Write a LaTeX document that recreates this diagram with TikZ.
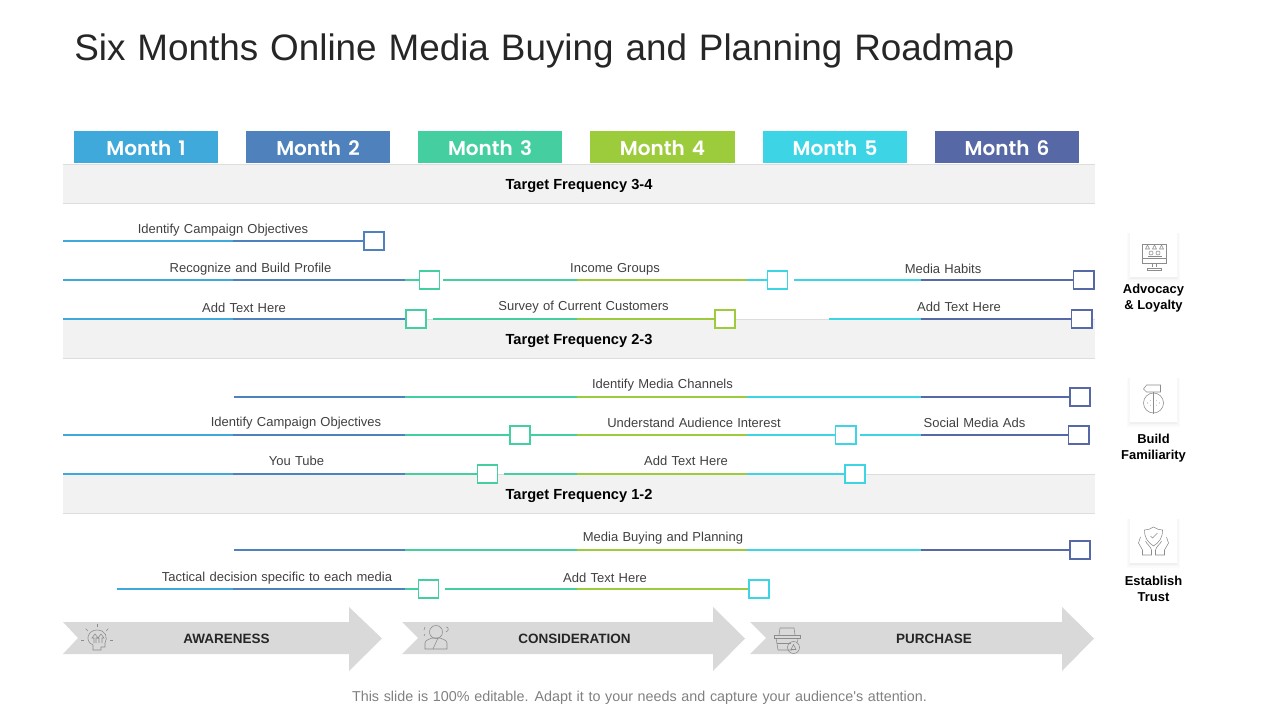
\documentclass[tikz,border=0pt]{standalone}
\usepackage{fontspec}
\setmainfont{Liberation Sans}
\newfontfamily\titlefont{Liberation Sans}[WordSpace=1.5]
\newfontfamily\labelfont{Liberation Sans}[WordSpace=1.65]
\newfontfamily\footfont{Liberation Sans}[WordSpace=1.17]
\newfontfamily\monthfont{Poppins SemiBold}[WordSpace=1.5]
\usetikzlibrary{arrows.meta,positioning,calc,shadows}
\definecolor{mone}{HTML}{3FA9DC}
\definecolor{mtwo}{HTML}{4F81BD}
\definecolor{mthree}{HTML}{45CFA1}
\definecolor{mfour}{HTML}{9CCB3B}
\definecolor{mfive}{HTML}{3DD5E6}
\definecolor{msix}{HTML}{5668A6}
\definecolor{bandgrey}{HTML}{F2F2F2}
\definecolor{bandline}{HTML}{DDDDDD}
\definecolor{arrowgrey}{HTML}{D9D9D9}
\definecolor{icongrey}{HTML}{8C8C8C}
\tikzset{
    monthbox/.style={minimum width=3.6cm,minimum height=0.8cm,inner sep=0pt,text=white,text height=12.5pt,text depth=0pt,font=\monthfont\fontsize{14.2pt}{16pt}\selectfont},
    bandbox/.style={fill=bandgrey,minimum width=25.8cm,minimum height=0.95cm,inner sep=0pt,text height=7.6pt,text depth=0pt,font=\bfseries\fontsize{10.4pt}{12pt}\selectfont},
    track/.style={line width=1.4pt},
    tasklabel/.style={text=black!75,inner sep=0pt,font=\labelfont\fontsize{9.25pt}{10pt}\selectfont},
    stagelabel/.style={text=black!85,inner sep=0pt,font=\bfseries\fontsize{9.6pt}{11pt}\selectfont},
    sidelabel/.style={align=center,inner sep=0pt,font=\bfseries\fontsize{9.2pt}{11.4pt}\selectfont},
    sidecard/.style={fill=white,minimum width=1.18cm,minimum height=1.1cm,inner sep=0pt,
        drop shadow={shadow xshift=0pt,shadow yshift=-1.5pt,shadow scale=1.12,fill=black!1.5,opacity=1},
        drop shadow={shadow xshift=0pt,shadow yshift=-1.2pt,shadow scale=1.06,fill=black!3,opacity=1},
        drop shadow={shadow xshift=0pt,shadow yshift=-1.2pt,shadow scale=1.01,fill=black!6,opacity=1}},
    icon/.style={draw=icongrey,line width=0.4pt},
    mark box/.style={draw=#1,line width=1.4pt,fill=white,minimum width=0.5cm,minimum height=0.45cm,inner sep=0pt}
}

\begin{document}
\begin{tikzpicture}[x=0.025cm,y=-0.025cm]
    \useasboundingbox (0,0) rectangle (1280,720);

    % Title
    \node[anchor=base west,inner sep=0pt,text=black!85,font=\titlefont\fontsize{26.2pt}{30pt}\selectfont] (title) at (74,61) {Six Months Online Media Buying and Planning Roadmap};

    % Month headers
    \foreach \x/\col/\n in {146/mone/1, 318/mtwo/2, 490/mthree/3, 662.5/mfour/4, 835/mfive/5, 1007/msix/6} {
        \node[monthbox,fill=\col] (month\n) at (\x,147) {Month \n};
    }

    % Month boundaries for the tracks
    \coordinate (mb1) at (233,0);
    \coordinate (mb2) at (405,0);
    \coordinate (mb3) at (577,0);
    \coordinate (mb4) at (747,0);
    \coordinate (mb5) at (921,0);

    % Frequency bands
    \foreach \y/\name/\label in {184/bandA/3-4, 339/bandB/2-3, 494/bandC/1-2} {
        \node[bandbox] (\name) at (579,\y) {Target Frequency \label};
        \draw[bandline] (\name.north west) -- (\name.north east);
        \draw[bandline] (\name.south west) -- (\name.south east);
    }

    % Row 1
    \coordinate (sa) at (63,241);
    \node[mark box=mtwo] (na) at (374,241) {};
    \draw[track,mone] (sa) -- (mb1 |- sa);
    \draw[track,mtwo] (mb1 |- sa) -- (na.west);
    \node[tasklabel] (la) at (223,230) {Identify Campaign Objectives};

    % Row 2
    \coordinate (sb) at (63,280);
    \coordinate (sbb) at (443,280);
    \coordinate (sbc) at (794,280);
    \node[mark box=mthree] (nb) at (429.5,280) {};
    \node[mark box=mfive] (nbb) at (777.5,280) {};
    \node[mark box=msix] (nbc) at (1083.5,280) {};
    \draw[track,mone] (sb) -- (mb1 |- sb);
    \draw[track,mtwo] (mb1 |- sb) -- (mb2 |- sb);
    \draw[track,mthree] (mb2 |- sb) -- (nb.west);
    \draw[track,mthree] (sbb) -- (mb3 |- sbb);
    \draw[track,mfour] (mb3 |- sbb) -- (mb4 |- sbb);
    \draw[track,mfive] (mb4 |- sbb) -- (nbb.west);
    \draw[track,mfive] (sbc) -- (mb5 |- sbc);
    \draw[track,msix] (mb5 |- sbc) -- (nbc.west);
    \node[tasklabel] (lb) at (250.5,269) {Recognize and Build Profile};
    \node[tasklabel] (lbb) at (615,269) {Income Groups};
    \node[tasklabel] (lbc) at (943,269) {Media Habits};

    % Row 3
    \coordinate (sc) at (63,319);
    \coordinate (scb) at (433,319);
    \coordinate (scc) at (829,319);
    \node[mark box=mthree] (nc) at (416,319) {};
    \node[mark box=mfour] (ncb) at (725,319) {};
    \node[mark box=msix] (ncc) at (1081.5,319) {};
    \draw[track,mone] (sc) -- (mb1 |- sc);
    \draw[track,mtwo] (mb1 |- sc) -- (nc.west);
    \draw[track,mthree] (scb) -- (mb3 |- scb);
    \draw[track,mfour] (mb3 |- scb) -- (ncb.west);
    \draw[track,mfive] (scc) -- (mb5 |- scc);
    \draw[track,msix] (mb5 |- scc) -- (ncc.west);
    \node[tasklabel] (lc) at (244,308) {Add Text Here};
    \node[tasklabel] (lcb) at (583.5,307) {Survey of Current Customers};
    \node[tasklabel] (lcc) at (959,307) {Add Text Here};

    % Row 4
    \coordinate (sd) at (234,397);
    \node[mark box=msix] (nd) at (1080,397) {};
    \draw[track,mtwo] (sd) -- (mb2 |- sd);
    \draw[track,mthree] (mb2 |- sd) -- (mb3 |- sd);
    \draw[track,mfour] (mb3 |- sd) -- (mb4 |- sd);
    \draw[track,mfive] (mb4 |- sd) -- (mb5 |- sd);
    \draw[track,msix] (mb5 |- sd) -- (nd.west);
    \node[tasklabel] (ld) at (662.5,385) {Identify Media Channels};

    % Row 5
    \coordinate (se) at (63,435);
    \coordinate (seb) at (531,435);
    \coordinate (sec) at (860,435);
    \node[mark box=mthree] (ne) at (520,435) {};
    \node[mark box=mfive] (neb) at (845.5,435) {};
    \node[mark box=msix] (nec) at (1078.5,435) {};
    \draw[track,mone] (se) -- (mb1 |- se);
    \draw[track,mtwo] (mb1 |- se) -- (mb2 |- se);
    \draw[track,mthree] (mb2 |- se) -- (ne.west);
    \draw[track,mthree] (seb) -- (mb3 |- seb);
    \draw[track,mfour] (mb3 |- seb) -- (mb4 |- seb);
    \draw[track,mfive] (mb4 |- seb) -- (neb.west);
    \draw[track,mfive] (sec) -- (mb5 |- sec);
    \draw[track,msix] (mb5 |- sec) -- (nec.west);
    \node[tasklabel] (le) at (296,423) {Identify Campaign Objectives};
    \node[tasklabel] (leb) at (694,423) {Understand Audience Interest};
    \node[tasklabel] (lec) at (974.5,423) {Social Media Ads};

    % Row 6
    \coordinate (sf) at (63,474);
    \coordinate (sfb) at (504,474);
    \node[mark box=mthree] (nf) at (487.5,474) {};
    \node[mark box=mfive] (nfb) at (855,474) {};
    \draw[track,mone] (sf) -- (mb1 |- sf);
    \draw[track,mtwo] (mb1 |- sf) -- (mb2 |- sf);
    \draw[track,mthree] (mb2 |- sf) -- (nf.west);
    \draw[track,mthree] (sfb) -- (mb3 |- sfb);
    \draw[track,mfour] (mb3 |- sfb) -- (mb4 |- sfb);
    \draw[track,mfive] (mb4 |- sfb) -- (nfb.west);
    \node[tasklabel] (lf) at (296.5,461) {You Tube};
    \node[tasklabel] (lfb) at (686,461) {Add Text Here};

    % Row 7
    \coordinate (sg) at (234,550);
    \node[mark box=msix] (ng) at (1080,550) {};
    \draw[track,mtwo] (sg) -- (mb2 |- sg);
    \draw[track,mthree] (mb2 |- sg) -- (mb3 |- sg);
    \draw[track,mfour] (mb3 |- sg) -- (mb4 |- sg);
    \draw[track,mfive] (mb4 |- sg) -- (mb5 |- sg);
    \draw[track,msix] (mb5 |- sg) -- (ng.west);
    \node[tasklabel] (lg) at (663,538) {Media Buying and Planning};

    % Row 8
    \coordinate (sh) at (117,589);
    \coordinate (shb) at (445,589);
    \node[mark box=mthree] (nh) at (428.5,589) {};
    \node[mark box=mfive] (nhb) at (759,589) {};
    \draw[track,mone] (sh) -- (mb1 |- sh);
    \draw[track,mtwo] (mb1 |- sh) -- (mb2 |- sh);
    \draw[track,mthree] (mb2 |- sh) -- (nh.west);
    \draw[track,mthree] (shb) -- (mb3 |- shb);
    \draw[track,mfour] (mb3 |- shb) -- (nhb.west);
    \node[tasklabel] (lh) at (277,578) {Tactical decision specific to each media};
    \node[tasklabel] (lhb) at (605,578) {Add Text Here};

    % Stage arrows
    \fill[arrowgrey] (63,622) -- (349,622) -- (349,607) -- (382,638.5) -- (349,671) -- (349,654) -- (63,654) -- (78,638) -- cycle;
    \fill[arrowgrey] (402,622) -- (713,622) -- (713,607) -- (745,638.5) -- (713,671) -- (713,654) -- (402,654) -- (418,638) -- cycle;
    \fill[arrowgrey] (750,622) -- (1062,622) -- (1062,607) -- (1094,638.5) -- (1062,671) -- (1062,654) -- (750,654) -- (766,638) -- cycle;
    \node[stagelabel] (stageA) at (226.5,639) {AWARENESS};
    \node[stagelabel] (stageB) at (574.5,639) {CONSIDERATION};
    \node[stagelabel] (stageC) at (934,639) {PURCHASE};

    % Awareness icon
    \begin{scope}[shift={(97,640)}]
        \draw[icon] (-4,10) -- (-4,5) .. controls (-13,1) and (-9,-10) .. (0,-10) .. controls (9,-10) and (11,-2) .. (8,3) -- (8,7) -- (4,7) -- (4,10) -- cycle;
        \draw[icon] (-3,3) -- (-3,-2) -- (-5,-2) -- (-2,-6) -- (1,-2) -- (-1,-2) -- (-1,3);
        \draw[icon] (2,3) -- (2,-2) -- (1,-2) -- (4,-6) -- (7,-2) -- (5,-2) -- (5,3);
        \foreach \a in {-180,-135,-90,-45,0} {
            \draw[icon] (\a:13) -- (\a:16);
        }
    \end{scope}

    % Consideration icon
    \begin{scope}[shift={(436,638)}]
        \draw[icon] (0,-6) circle (6.5);
        \draw[icon] (-11,11) -- (-11,5) .. controls (-11,2) and (-6,1) .. (-4,0) -- (4,0) .. controls (6,1) and (11,2) .. (11,5) -- (11,11) -- cycle;
        \draw[icon] (-3,11) -- (2,0);
        \draw[icon] (-12,-8) -- (-11,-11);
        \draw[icon] (-12,-2) -- (-11,-4);
        \draw[icon] (10,-11) .. controls (13,-11) and (13,-7) .. (10,-6);
    \end{scope}

    % Purchase icon
    \begin{scope}[shift={(787,640)}]
        \draw[icon] (-8,-5) -- (-7,-12) -- (7,-12) -- (8,-5);
        \draw[icon] (-13,-5) -- (13,-5) -- (13,-2) -- (-13,-2) -- cycle;
        \draw[icon] (-11,-2) -- (-9,10) -- (5,10);
        \draw[icon] (11,-2) -- (10.5,2);
        \draw[icon] (-10,3) -- (4,3);
        \draw[icon] (6.5,7.5) circle (6);
        \draw[icon] (6.5,4.5) -- (9,9.5) -- (4,9.5) -- cycle;
    \end{scope}

    % Side cards
    \node[sidecard] (cardA) at (1153.5,255) {};
    \node[sidecard] (cardB) at (1153.5,400) {};
    \node[sidecard] (cardC) at (1153.5,541) {};
    \node[sidelabel] (sideA) at (1153.5,298) {Advocacy\\\& Loyalty};
    \node[sidelabel] (sideB) at (1153.5,448) {Build\\Familiarity};
    \node[sidelabel] (sideC) at (1153.5,589) {Establish\\Trust};

    % Monitor icon
    \begin{scope}[shift={(cardA)}]
        \draw[icon] (-11,-11) rectangle (13,8);
        \draw[icon] (-11,3) -- (13,3);
        \draw[icon] (-1,8) -- (-1,12) (3,8) -- (3,12);
        \draw[icon] (-6,13) rectangle (8,15);
        \foreach \x in {-6,1,8} {
            \draw[icon] (\x,-10) -- (\x+2,-6) -- (\x-2,-6) -- cycle;
        }
        \foreach \x in {-2.5,4.5} {
            \draw[icon] (\x,-2) circle (2);
            \draw[icon] (\x-3,2.5) -- (\x-3,1) -- (\x+3,1) -- (\x+3,2.5);
        }
    \end{scope}

    % Signpost icon
    \begin{scope}[shift={(cardB)}]
        \draw[icon] (0,3) circle (10);
        \draw[icon] (0,-14) -- (0,14);
        \draw[icon,fill=white] (-10,-11) -- (-7,-15) -- (7,-15) -- (7,-8) -- (-7,-8) -- cycle;
        \draw[icon,dotted] (-6,3) -- (-2,0) (-6,3) -- (-2,6);
        \draw[icon,dotted] (6,3) -- (2,0) (6,3) -- (2,6);
    \end{scope}

    % Shield icon
    \begin{scope}[shift={(cardC)}]
        \draw[icon] (0,-14) .. controls (-3,-12) and (-6,-11) .. (-9,-11) .. controls (-9,-3) and (-6,1) .. (0,5) .. controls (6,1) and (9,-3) .. (9,-11) .. controls (6,-11) and (3,-12) .. (0,-14) -- cycle;
        \draw[icon] (-3,-5) -- (-1,-3) -- (4,-8);
        \draw[icon] (-13,-4) -- (-15,2) -- (-11,9) -- (-11,14) -- (-2,14) -- (-2,9) .. controls (-3,5) and (-7,3) .. (-8,0);
        \draw[icon] (13,-4) -- (15,2) -- (11,9) -- (11,14) -- (2,14) -- (2,9) .. controls (3,5) and (7,3) .. (8,0);
    \end{scope}

    % Footer
    \node[inner sep=0pt,text=black!50,font=\footfont\fontsize{10.2pt}{12pt}\selectfont] (footer) at (639.5,697.5) {This slide is 100\% editable. Adapt it to your needs and capture your audience's attention.};
\end{tikzpicture}
\end{document}
